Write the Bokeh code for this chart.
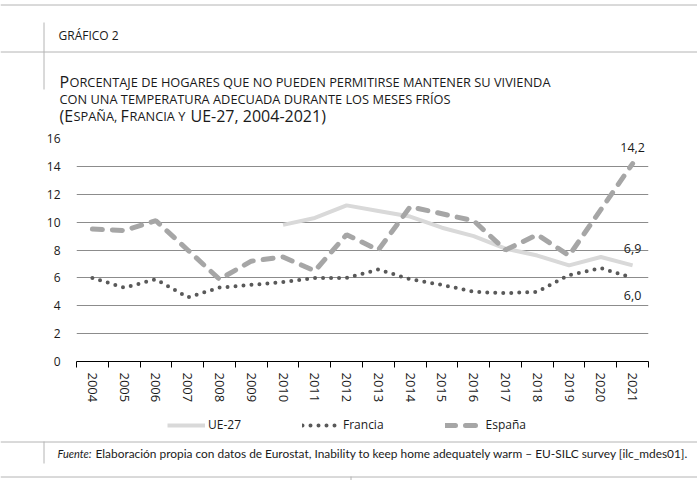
from bokeh.plotting import figure
from bokeh.models import Range1d, FixedTicker, Legend, LegendItem, ColumnDataSource
from bokeh.core.properties import value
from bokeh.embed import file_html
from bokeh.resources import INLINE

# ---------------- data ----------------
years = list(range(2004, 2022))
espana = [9.5, 9.4, 10.1, 8.0, 5.9, 7.2, 7.5, 6.5, 9.1, 8.0, 11.1, 10.6, 10.1, 8.0, 9.1, 7.6, 10.9, 14.2]
francia = [6.0, 5.3, 5.9, 4.6, 5.3, 5.5, 5.7, 6.0, 6.0, 6.6, 5.9, 5.5, 5.0, 4.9, 5.0, 6.2, 6.7, 6.0]
ue27_years = list(range(2010, 2022))
ue27 = [9.8, 10.3, 11.2, 10.8, 10.4, 9.6, 9.0, 8.1, 7.6, 6.9, 7.5, 6.9]
y_ticks = [0, 2, 4, 6, 8, 10, 12, 14, 16]
series_names = ["UE-27", "Francia", "España"]

W = 697
FONT = "Open Sans"
FFONT = "Lato"
TXT = "#1a1a1a"
RULE = "#b4b4b4"
C_UE = "#d9d9d9"
C_FR = "#595959"
C_ES = "#a6a6a6"

def blank(h):
    f = figure(width=W, height=h, output_backend="svg", toolbar_location=None,
               x_range=Range1d(0, W), y_range=Range1d(h, 0),
               x_axis_type=None, y_axis_type=None,
               min_border=0, min_border_left=0, min_border_right=0,
               min_border_top=0, min_border_bottom=0)
    f.grid.visible = False
    f.outline_line_color = None
    return f

def txt(f, x, y, t, size, font=FONT, style="normal", baseline="alphabetic"):
    f.text(x=[x], y=[y], text=[t], text_font=value(font), text_font_size=size,
           text_font_style=style, text_color=TXT, text_baseline=baseline, text_align="left")

# ---------------- header ----------------
H1 = 128
hd = blank(H1)
hd.segment(x0=[0, 0, 43.5], y0=[4.5, 51.5, 22], x1=[W, W, 43.5], y1=[4.5, 51.5, 89],
           line_color=RULE, line_width=1)
txt(hd, 58, 35, "GRÁFICO 2", "12px")
big = "16px"
small = "12.8px"
txt(hd, 59, 81, "P", big)
txt(hd, 69, 81, "ORCENTAJE DE HOGARES QUE NO PUEDEN PERMITIRSE MANTENER SU VIVIENDA", small)
txt(hd, 59, 98, "CON UNA TEMPERATURA ADECUADA DURANTE LOS MESES FRÍOS", small)
txt(hd, 59, 115, "(E", big)
txt(hd, 73, 115, "SPAÑA, ", small)
txt(hd, 120, 115, "F", big)
txt(hd, 129, 115, "RANCIA Y ", small)
txt(hd, 190, 115, "UE-27, 2004-2021)", big)

# ---------------- main chart ----------------
H2 = 284
p = figure(width=W, height=H2, output_backend="svg", toolbar_location=None,
           x_range=Range1d(years[0] - 0.5, years[-1] + 0.5), y_range=Range1d(y_ticks[0], y_ticks[-1]),
           min_border_left=76, min_border_right=49, min_border_top=10, min_border_bottom=51)
p.outline_line_color = None
p.xgrid.grid_line_color = None
p.ygrid.grid_line_color = "#8c8c8c"
p.ygrid.grid_line_width = 1
p.ygrid.ticker = FixedTicker(ticks=y_ticks)

p.yaxis.ticker = FixedTicker(ticks=y_ticks)
p.yaxis.axis_line_color = None
p.yaxis.major_tick_line_color = None
p.yaxis.minor_tick_line_color = None
p.yaxis.major_label_standoff = 10
p.yaxis.major_label_text_font = FONT
p.yaxis.major_label_text_font_size = "12px"
p.yaxis.major_label_text_color = TXT

p.xaxis.ticker = FixedTicker(ticks=years, minor_ticks=[y - 0.5 for y in years] + [years[-1] + 0.5])
p.xaxis.axis_line_color = "#000000"
p.xaxis.major_tick_line_color = None
p.xaxis.minor_tick_line_color = "#000000"
p.xaxis.minor_tick_out = 6
p.xaxis.minor_tick_in = 0
p.xaxis.major_tick_out = 0
p.xaxis.major_label_standoff = 5
p.xaxis.major_label_orientation = "vertical"
p.xaxis.major_label_text_font = FONT
p.xaxis.major_label_text_font_size = "13px"
p.xaxis.major_label_text_color = TXT

p.line(ue27_years, ue27, line_color=C_UE, line_width=4)
p.line(years, francia, line_color=C_FR, line_width=4, line_dash="0 8", line_cap="round")
p.line(years, espana, line_color=C_ES, line_width=5, line_dash="10 10", line_cap="round")

lab = ColumnDataSource(dict(
    x=[years[-1], ue27_years[-1], years[-1]],
    y=[espana[-1], ue27[-1], francia[-1]],
    t=[f"{espana[-1]:.1f}".replace(".", ","), f"{ue27[-1]:.1f}".replace(".", ","),
       f"{francia[-1]:.1f}".replace(".", ",")],
    dy=[-16, -17, 18],
))
p.text(x="x", y="y", text="t", y_offset="dy", source=lab, text_font=value(FONT),
       text_font_size="12.5px", text_color=TXT, text_align="center", text_baseline="middle")

# ---------------- footer ----------------
H3 = 68
ft = blank(H3)
ft.segment(x0=[0, 43.5, 0, 350.5], y0=[29.5, 29, 64.5, 64], x1=[W, 43.5, W, 350.5], y1=[29.5, 51, 64.5, 68],
           line_color=RULE, line_width=1)
txt(ft, 57, 41, "Fuente:", "11px", font=FFONT, style="italic", baseline="middle")
txt(ft, 95, 41, "Elaboración propia con datos de Eurostat, Inability to keep home adequately warm – EU-SILC survey [ilc_mdes01].",
    "11.9px", font=FFONT, baseline="middle")

d_ue = ft.line([-100, -90], [-100, -100], line_color=C_UE, line_width=4)
d_fr = ft.line([-100, -90], [-100, -100], line_color=C_FR, line_width=4, line_dash="0 8", line_cap="round")
d_es = ft.line([-100, -90], [-100, -100], line_color=C_ES, line_width=5, line_dash="10 10", line_cap="round")
legend = Legend(items=[LegendItem(label=series_names[0], renderers=[d_ue]),
                       LegendItem(label=series_names[1], renderers=[d_fr]),
                       LegendItem(label=series_names[2], renderers=[d_es])],
                orientation="horizontal", location=(167, 47), padding=0, margin=0,
                spacing=61, glyph_width=38, glyph_height=10, label_height=10,
                label_standoff=3, border_line_color=None, background_fill_alpha=0,
                label_text_font=FONT, label_text_font_size="12px", label_text_color=TXT)
ft.add_layout(legend)

open("out.html", "w").write(file_html([hd, p, ft], INLINE))
